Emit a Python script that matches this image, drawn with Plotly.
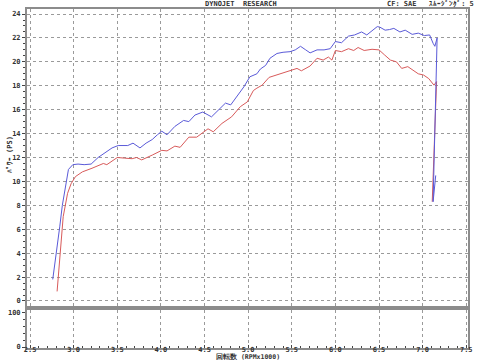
import plotly.graph_objects as go

# Blue curve (power, upper run)
blue_rpm = [2.76, 2.80, 2.84, 2.87, 2.90, 2.94, 2.99, 3.05, 3.12, 3.20, 3.28, 3.36, 3.44, 3.51,
            3.57, 3.62, 3.68, 3.76, 3.83, 3.90, 3.96, 4.01, 4.07, 4.16, 4.26, 4.32, 4.39, 4.48,
            4.58, 4.66, 4.74, 4.80, 4.87, 4.95, 5.02, 5.10, 5.14, 5.20, 5.25, 5.33, 5.40, 5.48,
            5.54, 5.60, 5.66, 5.71, 5.79, 5.87, 5.94, 6.00, 6.07, 6.15, 6.22, 6.30, 6.36, 6.42,
            6.48, 6.51, 6.57, 6.62, 6.67, 6.74, 6.80, 6.88, 6.95, 7.02, 7.08, 7.12, 7.14, 7.166,
            7.12, 7.15]
blue_ps = [1.8, 3.8, 6.2, 8.0, 9.3, 11.0, 11.4, 11.45, 11.4, 11.45, 12.0, 12.4, 12.8, 13.0,
           13.0, 13.0, 13.2, 12.8, 13.2, 13.5, 13.9, 14.2, 13.9, 14.6, 15.1, 15.0, 15.55, 15.8,
           15.4, 16.0, 16.55, 16.4, 17.1, 17.9, 18.75, 19.0, 19.4, 19.7, 20.3, 20.7, 20.8, 20.85,
           21.0, 21.3, 21.0, 20.75, 21.0, 21.0, 21.1, 21.7, 21.6, 22.15, 22.25, 22.5, 22.25, 22.6,
           22.95, 22.9, 22.65, 22.7, 22.8, 22.5, 22.65, 22.3, 22.4, 22.2, 22.25, 21.55, 21.3, 22.0,
           8.3, 10.5]

# Red curve (power, lower run)
red_rpm = [2.81, 2.84, 2.86, 2.88, 2.93, 2.97, 3.02, 3.10, 3.21, 3.34, 3.38, 3.44, 3.50, 3.58,
           3.67, 3.72, 3.78, 3.90, 3.95, 4.01, 4.07, 4.16, 4.22, 4.32, 4.41, 4.48, 4.54, 4.60,
           4.70, 4.81, 4.91, 4.99, 5.06, 5.10, 5.16, 5.24, 5.30, 5.37, 5.48, 5.56, 5.61, 5.71,
           5.79, 5.86, 5.92, 5.96, 6.00, 6.07, 6.15, 6.21, 6.26, 6.33, 6.42, 6.50, 6.56, 6.63,
           6.70, 6.76, 6.83, 6.89, 6.95, 7.01, 7.07, 7.13, 7.16, 7.11]
red_ps = [0.8, 3.4, 5.5, 7.05, 9.0, 9.8, 10.4, 10.8, 11.1, 11.5, 11.4, 11.7, 12.0, 11.95,
          11.9, 12.0, 11.8, 12.2, 12.4, 12.6, 12.55, 12.95, 12.85, 13.7, 13.7, 14.1, 14.4, 14.15,
          14.85, 15.4, 16.25, 16.65, 17.6, 17.8, 18.05, 18.7, 18.85, 19.0, 19.3, 19.45, 19.25, 19.65,
          20.3, 20.15, 20.4, 20.15, 20.95, 20.85, 21.1, 20.95, 21.2, 20.95, 21.05, 21.0, 20.6, 20.15,
          20.0, 19.45, 19.6, 19.3, 19.0, 18.9, 18.6, 18.05, 18.35, 8.3]

x_ticks = [2.5, 3.0, 3.5, 4.0, 4.5, 5.0, 5.5, 6.0, 6.5, 7.0, 7.5]
x_labels = ["2.5", "3.0", "3.5", "4.0", "4.5", "5.0", "5.5", "6.0", "6.5", "7.0", "7.5"]
y_ticks = list(range(0, 25, 2))
sub_ticks = [0, 100]

BLUE = "#5a5ad8"
RED = "#d85a5a"
FRAME = "#8c8c8c"
GRID = "#9a9a9a"
FONT = "DejaVu Sans Mono"
TXT = "#333"

fig = go.Figure()
fig.add_trace(go.Scatter(x=red_rpm, y=red_ps, mode="lines", line=dict(color=RED, width=1),
                         xaxis="x", yaxis="y", showlegend=False))
fig.add_trace(go.Scatter(x=blue_rpm, y=blue_ps, mode="lines", line=dict(color=BLUE, width=1),
                         xaxis="x", yaxis="y", showlegend=False))
fig.add_trace(go.Scatter(x=[2.5], y=[-100], mode="lines", xaxis="x2", yaxis="y2",
                         showlegend=False, hoverinfo="skip"))

xr = [2.465, 7.52]
tickfont = dict(family=FONT, size=7, color=TXT, weight="bold")

fig.update_layout(
    width=480, height=360,
    margin=dict(l=27, r=12, t=9, b=12, autoexpand=False),
    paper_bgcolor="white", plot_bgcolor="white",
    xaxis=dict(domain=[0, 1], range=xr, anchor="y", tickvals=x_ticks, showticklabels=False,
               ticks="", showgrid=True, gridcolor=GRID, griddash="dot", gridwidth=1,
               showline=True, linecolor=FRAME, linewidth=2, mirror=True, zeroline=False,
               automargin=False),
    yaxis=dict(domain=[0.1239, 1], range=[-0.42, 24.42], anchor="x", tickvals=y_ticks,
               tickfont=tickfont, ticks="outside", ticklen=3, tickcolor="#444",
               minor=dict(dtick=0.5, ticks="outside", ticklen=2, tickcolor="#444", showgrid=False),
               showgrid=True, gridcolor=GRID, griddash="dot", gridwidth=1,
               showline=True, linecolor=FRAME, linewidth=2, mirror=True, zeroline=False,
               automargin=False),
    xaxis2=dict(domain=[0, 1], range=xr, anchor="y2", tickvals=x_ticks, ticktext=x_labels,
                tickfont=tickfont, ticks="inside", ticklen=3, tickcolor="#444",
                ticklabelstandoff=-6,
                minor=dict(dtick=0.1, ticks="inside", ticklen=2, tickcolor="#444", showgrid=False),
                showgrid=True, gridcolor=GRID, griddash="dot", gridwidth=1,
                showline=True, linecolor=FRAME, linewidth=2, mirror=True, zeroline=False,
                automargin=False),
    yaxis2=dict(domain=[0, 0.1121], range=[-2.9, 108.8], anchor="x2", tickvals=sub_ticks,
                tickfont=tickfont, ticks="outside", ticklen=3, tickcolor="#444",
                minor=dict(dtick=20, ticks="outside", ticklen=2, tickcolor="#444", showgrid=False),
                showgrid=False, showline=True, linecolor=FRAME, linewidth=2, mirror=True,
                zeroline=False, automargin=False),
)

annfont = dict(family=FONT, size=7, color=TXT, weight="bold")
fig.add_annotation(text="DYNOJET  RESEARCH", x=0.485, y=1.014, xref="paper", yref="paper",
                   xanchor="center", yanchor="middle", showarrow=False, font=annfont)
fig.add_annotation(text="CF: SAE   ｽﾑｰｼﾞﾝｸﾞ: 5", xref="paper", yref="paper",
                   x=1.018, y=1.014, xanchor="right", yanchor="middle", showarrow=False,
                   font=annfont)
fig.add_annotation(text="ﾊﾟﾜｰ (PS)", xref="paper", yref="paper", x=-0.04, y=0.57,
                   xanchor="center", yanchor="middle", textangle=-90, showarrow=False,
                   font=annfont)
fig.add_annotation(text="回転数 (RPMx1000)", xref="paper", yref="paper", x=0.5, y=-0.027,
                   xanchor="center", yanchor="middle", showarrow=False,
                   font=dict(family=FONT, size=6.5, color=TXT, weight="bold"),
                   borderpad=0)

fig.write_html("out.html")
